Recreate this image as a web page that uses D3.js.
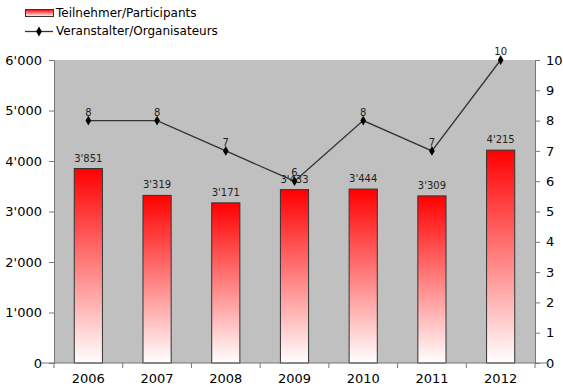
<!DOCTYPE html>
<html>
<head>
<meta charset="utf-8">
<script src="https://cdn.jsdelivr.net/npm/d3@7"></script>
<style>
  body { margin: 0; background: #fff; }
  svg text { font-family: "DejaVu Sans", Verdana, sans-serif; }
</style>
</head>
<body>
<svg width="563" height="391"></svg>
<script>
const years = ["2006", "2007", "2008", "2009", "2010", "2011", "2012"];
const participants = [3851, 3319, 3171, 3433, 3444, 3309, 4215];
const organisers = [8, 8, 7, 6, 8, 7, 10];
const leftTicks = [0, 1000, 2000, 3000, 4000, 5000, 6000];
const rightTicks = [0, 1, 2, 3, 4, 5, 6, 7, 8, 9, 10];
const legendNames = ["Teilnehmer/Participants", "Veranstalter/Organisateurs"];

const fmt = function (v) {
  return d3.format(",")(v).replace(/,/g, "'");
};

const svg = d3.select("svg");
const plotLeft = 54, plotRight = 535, plotTop = 60, plotBottom = 363;

const defs = svg.append("defs");
const grad = defs.append("linearGradient")
  .attr("id", "barGrad")
  .attr("x1", 0).attr("y1", 0).attr("x2", 0).attr("y2", 1);
grad.append("stop").attr("offset", "0%").attr("stop-color", "#ff0000");
grad.append("stop").attr("offset", "100%").attr("stop-color", "#ffffff");

const x = d3.scaleBand().domain(years).range([plotLeft, plotRight]).paddingInner(0).paddingOuter(0);
const y = d3.scaleLinear().domain([0, 6000]).range([plotBottom, plotTop]);
const y2 = d3.scaleLinear().domain([0, 10]).range([plotBottom, plotTop]);

// plot background
svg.append("rect")
  .attr("x", plotLeft).attr("y", plotTop)
  .attr("width", plotRight - plotLeft).attr("height", plotBottom - plotTop)
  .attr("fill", "#c0c0c0");

const barW = x.bandwidth() * 0.41;

svg.append("g")
  .selectAll("rect")
  .data(participants)
  .enter()
  .append("rect")
  .attr("x", function (d, i) { return x(years[i]) + (x.bandwidth() - barW) / 2; })
  .attr("y", function (d) { return y(d); })
  .attr("width", barW)
  .attr("height", function (d) { return plotBottom - y(d); })
  .attr("fill", "url(#barGrad)")
  .attr("stroke", "#333")
  .attr("stroke-width", 1);

svg.append("g")
  .selectAll("text")
  .data(participants)
  .enter()
  .append("text")
  .attr("x", function (d, i) { return x(years[i]) + x.bandwidth() / 2; })
  .attr("y", function (d) { return y(d) - 7; })
  .attr("text-anchor", "middle")
  .style("font-size", "10px")
  .attr("fill", "#222")
  .text(function (d) { return fmt(d); });

// axes
const axisStyle = function (g) {
  g.select(".domain").attr("stroke", "#777");
  g.selectAll(".tick line").attr("stroke", "#777");
  g.selectAll(".tick text").style("font-size", "13px").attr("fill", "#000");
};

svg.append("g")
  .attr("transform", "translate(" + plotLeft + ",0)")
  .call(d3.axisLeft(y).tickValues(leftTicks).tickFormat(fmt).tickSize(5).tickSizeOuter(0).tickPadding(7))
  .call(axisStyle);

svg.append("g")
  .attr("transform", "translate(" + plotRight + ",0)")
  .call(d3.axisRight(y2).tickValues(rightTicks).tickSize(5).tickSizeOuter(0).tickPadding(6))
  .call(axisStyle);

const xAxis = svg.append("g")
  .attr("transform", "translate(0," + plotBottom + ")")
  .call(d3.axisBottom(x).tickSize(0).tickPadding(11))
  .call(axisStyle);
xAxis.select(".domain").attr("d", "M" + (plotLeft - 13) + ",0H" + (plotRight + 13));

svg.append("g")
  .selectAll("line")
  .data(d3.range(years.length + 1))
  .enter()
  .append("line")
  .attr("x1", function (d) { return plotLeft + d * x.step(); })
  .attr("x2", function (d) { return plotLeft + d * x.step(); })
  .attr("y1", plotBottom)
  .attr("y2", plotBottom + 5)
  .attr("stroke", "#777");

// line series
const cx = function (i) { return x(years[i]) + x.bandwidth() / 2; };
const line = d3.line()
  .x(function (d, i) { return cx(i); })
  .y(function (d) { return y2(d); });

svg.append("path")
  .datum(organisers)
  .attr("d", line)
  .attr("fill", "none")
  .attr("stroke", "#333")
  .attr("stroke-width", 1.3);

const diamond = d3.symbol().type(d3.symbolDiamond).size(28);

svg.append("g")
  .selectAll("path")
  .data(organisers)
  .enter()
  .append("path")
  .attr("transform", function (d, i) { return "translate(" + cx(i) + "," + y2(d) + ")"; })
  .attr("d", diamond)
  .attr("fill", "#000");

svg.append("g")
  .selectAll("text")
  .data(organisers)
  .enter()
  .append("text")
  .attr("x", function (d, i) { return cx(i); })
  .attr("y", function (d) { return y2(d) - 5; })
  .attr("text-anchor", "middle")
  .style("font-size", "10px")
  .attr("fill", "#222")
  .text(function (d) { return d; });

// legend
svg.append("rect")
  .attr("x", 25.5).attr("y", 9.5)
  .attr("width", 28).attr("height", 7)
  .attr("fill", "url(#barGrad)")
  .attr("stroke", "#333");

svg.append("line")
  .attr("x1", 25).attr("x2", 53)
  .attr("y1", 31.5).attr("y2", 31.5)
  .attr("stroke", "#333").attr("stroke-width", 1.3);

svg.append("path")
  .attr("transform", "translate(39,31.5)")
  .attr("d", diamond)
  .attr("fill", "#000");

svg.selectAll(".legendText")
  .data(legendNames)
  .enter()
  .append("text")
  .attr("x", 56)
  .attr("y", function (d, i) { return 13 + i * 18; })
  .attr("dominant-baseline", "middle")
  .style("font-size", "12px")
  .attr("fill", "#000")
  .text(function (d) { return d; });
</script>
</body>
</html>
